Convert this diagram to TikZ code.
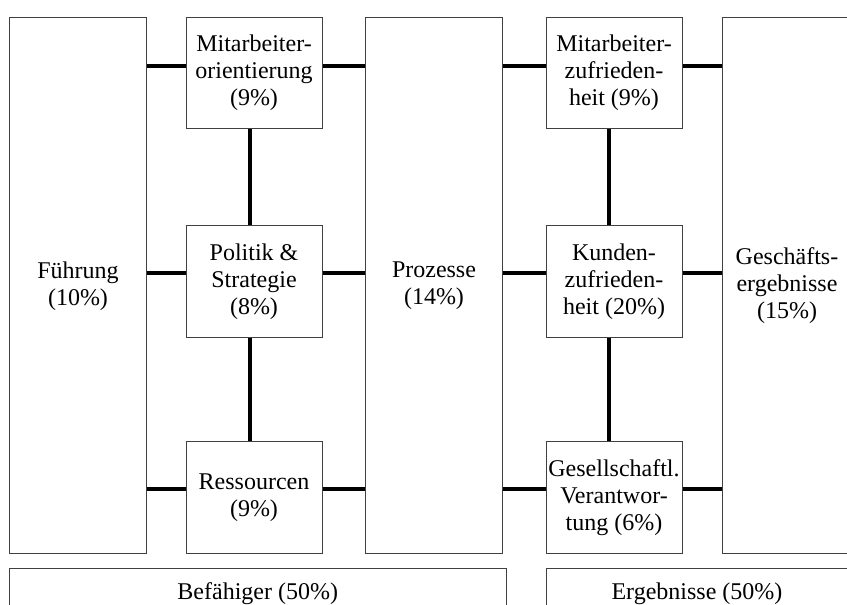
\documentclass[tikz,border=0pt]{standalone}
\usepackage{fontspec}
\setmainfont{Liberation Serif}
\begin{document}
\begin{tikzpicture}[x=0.75pt,y=-0.75pt,
  box/.style={draw=black!75, line width=0.75pt, fill=white, inner sep=0pt, align=center,
    font=\fontsize{18}{20.25}\selectfont},
  tall/.style={box, minimum height=402pt},
  small/.style={box, minimum width=102pt, minimum height=83.5pt},
  link/.style={line width=2.6pt, black}]
\useasboundingbox (0,0) rectangle (847,605);
\clip (0,0) rectangle (847,605);
% coordinates for connector rows / columns
\coordinate (r1) at (0,66);
\coordinate (r2) at (0,273);
\coordinate (r3) at (0,489);
\coordinate (c1) at (250,0);
\coordinate (c2) at (609,0);
% boxes
\node[tall, minimum width=102.75pt] (fu) at (78,286) {Führung\\(10\%)};
\node[small] (mo) at (254,73) {Mitarbeiter-\\orientierung\\(9\%)};
\node[small] (ps) at (254,281.5) {Politik \&\\Strategie\\(8\%)};
\node[small] (re) at (254,497.5) {Ressourcen\\(9\%)};
\node[tall, minimum width=102.75pt] (pr) at (434,286) {Prozesse\\(14\%)};
\node[small] (mz) at (614,73) {Mitarbeiter-\\zufrieden-\\heit (9\%)};
\node[small] (ku) at (614,281.5) {Kunden-\\zufrieden-\\heit (20\%)};
\node[small] (gv) at (614,497.5) {Gesellschaftl.\\Verantwor-\\tung (6\%)};
\node[tall, minimum width=97.5pt] (gs) at (787,286) {Geschäfts-\\ergebnisse\\(15\%)};
\node[box, minimum width=372.4pt, minimum height=37.5pt] (bef) at (257.75,594) {Befähiger (50\%)};
\node[box, minimum width=226.5pt, minimum height=37.5pt] (erg) at (697,594) {Ergebnisse (50\%)};
% connectors
\draw[link] (fu.east |- r1) -- (mo.west |- r1);
\draw[link] (fu.east |- r2) -- (ps.west |- r2);
\draw[link] (fu.east |- r3) -- (re.west |- r3);
\draw[link] (mo.east |- r1) -- (pr.west |- r1);
\draw[link] (ps.east |- r2) -- (pr.west |- r2);
\draw[link] (re.east |- r3) -- (pr.west |- r3);
\draw[link] (mo.south -| c1) -- (ps.north -| c1);
\draw[link] (ps.south -| c1) -- (re.north -| c1);
\draw[link] (pr.east |- r1) -- (mz.west |- r1);
\draw[link] (pr.east |- r2) -- (ku.west |- r2);
\draw[link] (pr.east |- r3) -- (gv.west |- r3);
\draw[link] (mz.east |- r1) -- (gs.west |- r1);
\draw[link] (ku.east |- r2) -- (gs.west |- r2);
\draw[link] (gv.east |- r3) -- (gs.west |- r3);
\draw[link] (mz.south -| c2) -- (ku.north -| c2);
\draw[link] (ku.south -| c2) -- (gv.north -| c2);
\end{tikzpicture}
\end{document}
